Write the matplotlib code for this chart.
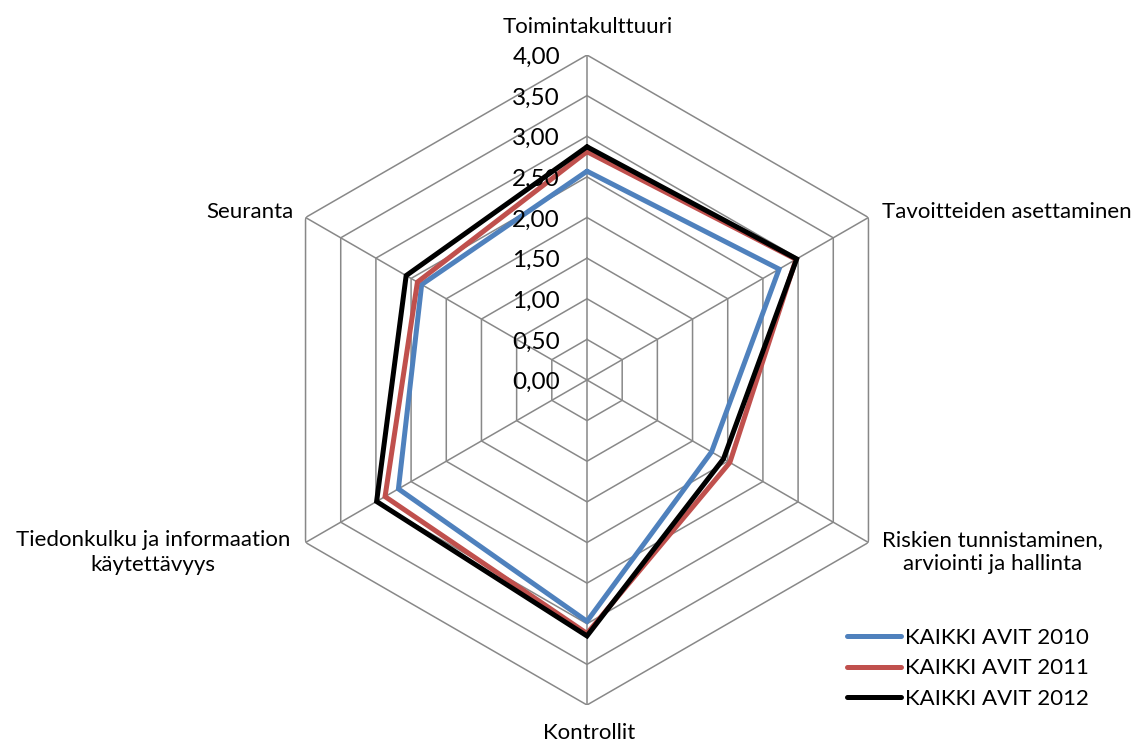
import numpy as np
import matplotlib
matplotlib.use("Agg")
import matplotlib.pyplot as plt

plt.rcParams['font.family'] = ['Lato', 'DejaVu Sans']

categories = ["Toimintakulttuuri", "Tavoitteiden asettaminen",
              "Riskien tunnistaminen,\narviointi ja hallinta", "Kontrollit",
              "Tiedonkulku ja informaation\nkäytettävyys", "Seuranta"]
series_names = ["KAIKKI AVIT 2010", "KAIKKI AVIT 2011", "KAIKKI AVIT 2012"]
values_2010 = [2.57, 2.73, 1.77, 2.97, 2.68, 2.35]
values_2011 = [2.81, 2.97, 2.03, 3.12, 2.87, 2.41]
values_2012 = [2.87, 2.98, 1.94, 3.15, 2.99, 2.57]
tick_values = [0.0, 0.5, 1.0, 1.5, 2.0, 2.5, 3.0, 3.5, 4.0]
tick_labels = ["0,00", "0,50", "1,00", "1,50", "2,00", "2,50", "3,00", "3,50", "4,00"]
colors = ["#4F81BD", "#C0504D", "#000000"]

W, H = 1142, 744
fig = plt.figure(figsize=(W / 100, H / 100), dpi=100)
cx, cy, R = 587, 380, 325
ax = fig.add_axes([(cx - R) / W, 1 - (cy + R) / H, 2 * R / W, 2 * R / H],
                  projection="polar")
ax.set_theta_offset(np.pi / 2)
ax.set_theta_direction(-1)
ax.set_ylim(0, 4)
ax.grid(False)
ax.set_xticks([])
ax.set_yticks([])
ax.spines['polar'].set_visible(False)
ax.patch.set_visible(False)

n = len(categories)
angles = np.arange(n) * 2 * np.pi / n
closed = np.append(angles, angles[0])

# hexagonal web and spokes
grid_color = "#888888"
for r in tick_values[1:]:
    ax.plot(closed, [r] * (n + 1), color=grid_color, lw=1.1, zorder=1)
for a in angles:
    ax.plot([a, a], [0, 4], color=grid_color, lw=1.1, zorder=1)

for name, vals, c in zip(series_names, [values_2010, values_2011, values_2012], colors):
    v = np.append(vals, vals[0])
    ax.plot(closed, v, color=c, lw=3.6, label=name, zorder=3,
            solid_joinstyle="miter", solid_capstyle="round")

# radial value labels beside the top spoke
for r, lab in zip(tick_values, tick_labels):
    ax.annotate(lab, xy=(0, r), xytext=(-27, -9), textcoords="offset pixels",
                ha="right", va="baseline", fontsize=17.5, color="#000000",
                annotation_clip=False)

# category labels at the outer vertices (baseline refers to the last line)
label_specs = [
    (0, 1, 22, "center"),
    (1, 14, -1, "left"),
    (2, 14, -28, "left"),
    (3, 2, -34, "center"),
    (4, -15, -28, "right"),
    (5, -12, 0, "right"),
]
for i, dx, dy, ha in label_specs:
    ax.annotate(categories[i], xy=(angles[i], 4), xytext=(dx, dy),
                textcoords="offset pixels", ha=ha, va="baseline", fontsize=16,
                multialignment="center", linespacing=1.27,
                annotation_clip=False)

leg = fig.legend(loc="lower right", bbox_to_anchor=(1100 / W, 1 - 720 / H),
                 frameon=False, fontsize=16, handlelength=2.43,
                 handletextpad=0.18, labelspacing=0.47, borderpad=0)

fig.savefig("out.png", dpi=100, facecolor="white")
